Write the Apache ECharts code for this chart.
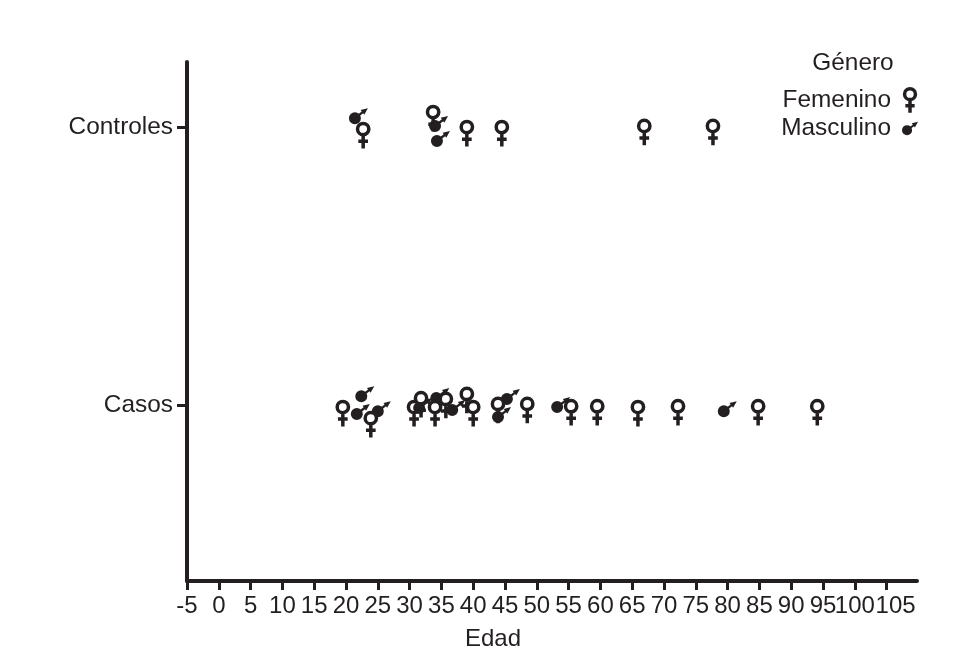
<!DOCTYPE html>
<html>
<head>
<meta charset="utf-8">
<style>html,body{margin:0;padding:0;background:#fff}#c{width:953px;height:663px}</style>
<script src="https://cdn.jsdelivr.net/npm/echarts@6/dist/echarts.min.js"></script>
</head>
<body>
<div id="c"></div>
<script>
// Row positions: Casos = 0, Controles = 1 (fractions are the vertical jitter)
const rowLabels = { 0: 'Casos', 1: 'Controles' };
const xTicks = [-5,0,5,10,15,20,25,30,35,40,45,50,55,60,65,70,75,80,85,90,95,100,105];
const xEnd = 109.78;

const femaleAge = [22.7,33.7,39.0,44.5,66.9,77.7, 19.5,23.9,30.7,31.8,34.0,35.7,39.0,40.0,43.9,48.5,55.4,59.5,65.9,72.2,84.8,94.1];
const femaleRow = [0.993,1.054,1,1,1.004,1.004, -0.007,-0.047,-0.007,0.025,-0.007,0.022,0.04,-0.007,0.004,0.004,-0.004,-0.004,-0.007,-0.004,-0.004,-0.004];

const maleAge = [21.4,34.0,34.3, 22.4,21.7,25.0,34.2,36.7,45.3,43.9,53.2,79.4];
const maleRow = [1.032,1.004,0.95, 0.032,-0.032,-0.022,0.025,-0.018,0.022,-0.043,-0.007,-0.022];
// drawn above the female marks
const maleTopAge = [31.5];
const maleTopRow = [-0.011];

const ink = '#231f20';
const femalePath = 'path://M7 0A5.25 5.25 0 1 1 7 10.5A5.25 5.25 0 1 1 7 0ZM7 10.5L7 23.25M2.5 16.5L11.5 16.5';
const malePath = 'path://M6 4A6 6 0 1 1 6 16A6 6 0 1 1 6 4ZM5.3 9L12.8 3.4L11.7 1.9L19 0L15.3 6.7L14.2 5.2L6.7 11Z';

const pairs = (a, b) => a.map((v, i) => [v, b[i]]);
const chart = echarts.init(document.getElementById('c'), null, { renderer: 'canvas' });
const font = 'Liberation Sans';
const maleSeries = (data) => ({
  name: 'Masculino', type: 'scatter', data, symbol: malePath,
  symbolSize: [19, 16], symbolOffset: [3.5, -2], itemStyle: { color: ink, opacity: 1 }
});
chart.setOption({
  animation: false,
  backgroundColor: '#fff',
  textStyle: { fontFamily: font, color: ink },
  grid: { left: 187, right: 36, top: 62, bottom: 82 },
  title: [
    { text: 'Género', left: 853, top: 51, textAlign: 'center', padding: 0,
      textStyle: { fontFamily: font, fontSize: 24.4, fontWeight: 'normal', color: ink } },
    { text: 'Edad', left: 493, top: 627, textAlign: 'center', padding: 0,
      textStyle: { fontFamily: font, fontSize: 24, fontWeight: 'normal', color: ink } }
  ],
  legend: {
    selectedMode: false, orient: 'vertical', align: 'right',
    right: 35, top: 87, padding: 0, itemGap: 2, itemWidth: 16, itemHeight: 24, symbolKeepAspect: true,
    textStyle: { fontFamily: font, fontSize: 24.4, color: ink, padding: [2, 6, 0, 0] },
    data: [
      { name: 'Femenino', icon: femalePath, itemStyle: { color: '#fff', borderColor: ink, borderWidth: 3.5 } },
      { name: 'Masculino', icon: malePath, itemStyle: { color: ink, borderWidth: 0 } }
    ]
  },
  xAxis: {
    type: 'value', min: -5, max: xEnd, splitLine: { show: false },
    axisLine: { onZero: false, lineStyle: { color: ink, width: 4 } },
    axisTick: { customValues: xTicks, length: 9, lineStyle: { color: ink, width: 3 } },
    axisLabel: {
      customValues: xTicks.concat([xEnd]), hideOverlap: false, margin: 13,
      fontFamily: font, fontSize: 24, color: ink,
      formatter: v => v === xEnd ? '' : (v === 105 ? '{last|105}' : String(v)),
      rich: { last: { fontFamily: font, fontSize: 24, color: ink, padding: [0, 0, 0, 18] } }
    }
  },
  yAxis: {
    type: 'value', min: -0.633, max: 1.234, splitLine: { show: false },
    axisLine: { onZero: false, lineStyle: { color: ink, width: 4 } },
    axisTick: { customValues: [0, 1], length: 10, lineStyle: { color: ink, width: 3 } },
    axisLabel: { customValues: [0, 1], margin: 14, fontFamily: font, fontSize: 24.4, color: ink,
      padding: [10, 0, 0, 0], formatter: v => rowLabels[v] }
  },
  series: [
    maleSeries(pairs(maleAge, maleRow)),
    { name: 'Femenino', type: 'scatter', data: pairs(femaleAge, femaleRow), symbol: femalePath,
      symbolSize: 25, symbolKeepAspect: true, symbolOffset: [0, 6.9],
      itemStyle: { color: '#fff', borderColor: ink, borderWidth: 3.5, opacity: 1 } },
    maleSeries(pairs(maleTopAge, maleTopRow))
  ]
});
</script>
</body>
</html>
